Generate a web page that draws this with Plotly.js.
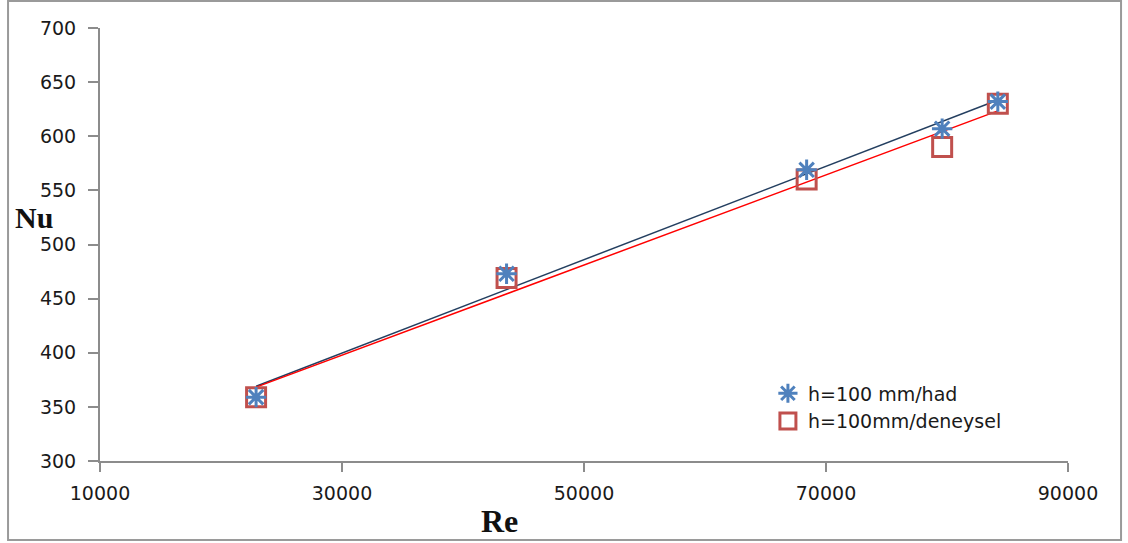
<!DOCTYPE html>
<html>
<head>
<meta charset="utf-8">
<script src="https://cdn.plot.ly/plotly-3.0.1.min.js"></script>
<style>
html,body{margin:0;padding:0;background:#fff;}
#chart{width:1128px;height:543px;}
</style>
</head>
<body>
<div id="chart"></div>
<script>
// Data
const re = [22900, 43600, 68400, 79600, 84200];
const nuHad = [359, 473, 569, 607, 632];
const nuDeneysel = [359, 469, 560, 590, 630];
const seriesNames = ["h=100 mm/had", "h=100mm/deneysel"];
const xTicks = [10000, 30000, 50000, 70000, 90000];
const yTicks = [300, 350, 400, 450, 500, 550, 600, 650, 700];

function linFit(xs, ys) {
  const n = xs.length;
  const mx = xs.reduce((a, b) => a + b, 0) / n;
  const my = ys.reduce((a, b) => a + b, 0) / n;
  let sxy = 0, sxx = 0;
  for (let i = 0; i < n; i++) { sxy += (xs[i] - mx) * (ys[i] - my); sxx += (xs[i] - mx) ** 2; }
  const b = sxy / sxx, a = my - b * mx;
  const x0 = Math.min(...xs), x1 = Math.max(...xs);
  return { x: [x0, x1], y: [a + b * x0, a + b * x1] };
}
const fitHad = linFit(re, nuHad);
const fitDen = linFit(re, nuDeneysel);

const axisColor = "#8c8c8c";
const tickFont = { family: "DejaVu Sans, Verdana, sans-serif", size: 19, color: "#1a1a1a" };

const traces = [
  { x: fitHad.x, y: fitHad.y, mode: "lines", line: { color: "#243F60", width: 1.5 }, showlegend: false, hoverinfo: "skip" },
  { x: fitDen.x, y: fitDen.y, mode: "lines", line: { color: "#FF0000", width: 1.5 }, showlegend: false, hoverinfo: "skip" },
  { x: re, y: nuDeneysel, name: seriesNames[1], mode: "markers",
    marker: { symbol: "square-open", size: 19, color: "#C0504D", line: { color: "#C0504D", width: 3 } } },
  { x: re, y: nuHad, name: seriesNames[0], mode: "markers",
    marker: { symbol: "asterisk-open", size: 17, color: "#4F81BD", line: { color: "#4F81BD", width: 3 } } }
];

const layout = {
  width: 1128, height: 543,
  margin: { l: 100, r: 60, t: 28, b: 82 },
  paper_bgcolor: "#fff", plot_bgcolor: "#fff",
  showlegend: true,
  legend: { x: 0.69, y: 0.2, xanchor: "left", yanchor: "top", traceorder: "reversed",
            font: { family: "DejaVu Sans, Verdana, sans-serif", size: 19, color: "#1a1a1a" },
            bgcolor: "rgba(0,0,0,0)", itemwidth: 30 },
  xaxis: { range: [10000, 90000], tickvals: xTicks, ticktext: xTicks.map(String),
           showgrid: false, zeroline: false, showline: true, linecolor: axisColor, linewidth: 2,
           ticks: "outside", ticklen: 9, tickwidth: 2, tickcolor: axisColor, tickfont: tickFont, ticklabelstandoff: 5 },
  yaxis: { range: [300, 700], tickvals: yTicks, ticktext: yTicks.map(String),
           showgrid: false, zeroline: false, showline: true, linecolor: axisColor, linewidth: 2,
           ticks: "outside", ticklen: 10, tickwidth: 2, tickcolor: axisColor, tickfont: tickFont, ticklabelstandoff: 8 },
  annotations: [
    { text: "<b>Nu</b>", xref: "paper", yref: "paper", x: -0.068, y: 0.563, xanchor: "center", yanchor: "middle",
      showarrow: false, font: { family: "Liberation Serif, Times New Roman, serif", size: 30, color: "#111" } },
    { text: "<b>Re</b>", xref: "paper", yref: "paper", x: 0.413, y: -0.138, xanchor: "center", yanchor: "middle",
      showarrow: false, font: { family: "Liberation Serif, Times New Roman, serif", size: 32, color: "#111" } }
  ],
  shapes: [
    { type: "rect", xref: "paper", yref: "paper", x0: -0.095, x1: 1.0548, y0: -0.1825, y1: 1.0625,
      line: { color: "#9a9a9a", width: 2 }, fillcolor: "rgba(0,0,0,0)" }
  ]
};

Plotly.newPlot("chart", traces, layout, { displayModeBar: false, staticPlot: true });
</script>
</body>
</html>
